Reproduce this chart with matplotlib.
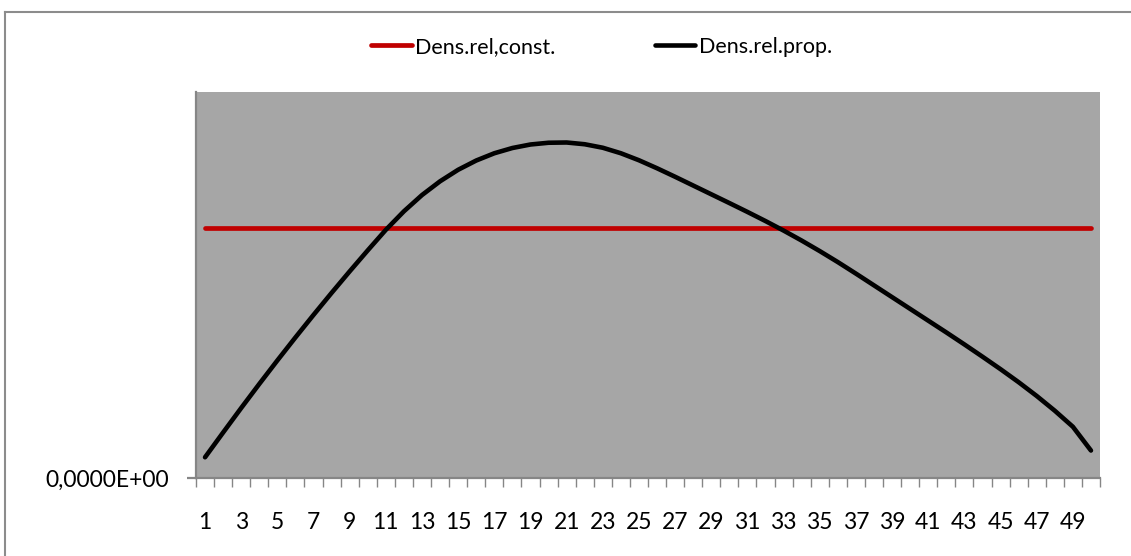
import matplotlib
matplotlib.use("Agg")
import matplotlib.pyplot as plt
from matplotlib.lines import Line2D
from matplotlib.ticker import FixedLocator, FuncFormatter

categories = list(range(1, 51))
dens_const = [0.02] * 50
dens_prop = [0.00168, 0.00366, 0.00562, 0.00754, 0.00942, 0.01126, 0.01306, 0.01482,
             0.01654, 0.01822, 0.01986, 0.02134, 0.02264, 0.02374, 0.02466, 0.02540,
             0.02598, 0.02640, 0.02668, 0.02682, 0.02684, 0.02670, 0.02642, 0.02598,
             0.02542, 0.02478, 0.02410, 0.02340, 0.02270, 0.02200, 0.02129, 0.02056,
             0.01980, 0.01900, 0.01816, 0.01728, 0.01636, 0.01542, 0.01448, 0.01354,
             0.01260, 0.01166, 0.01070, 0.00972, 0.00872, 0.00768, 0.00658, 0.00540,
             0.00412, 0.00222]
series_labels = ["Dens.rel,const.", "Dens.rel.prop."]
x_tick_labels = [str(c) for c in categories[::2]]

plt.rcParams['font.family'] = ['Lato', 'DejaVu Sans']

W, H = 1131, 556
fig = plt.figure(figsize=(W / 100, H / 100), dpi=100)
ax = fig.add_axes([196 / W, 1 - 478.3 / H, (1100 - 196) / W, (478.3 - 91.7) / H])
ax.set_facecolor('#A6A6A6')

axis_gray = '#868686'
l1, = ax.plot(categories, dens_const, color='#C00000', lw=3.4, solid_capstyle='round',
              label=series_labels[0])
l2, = ax.plot(categories, dens_prop, color='black', lw=3.3, solid_capstyle='round',
              solid_joinstyle='round', label=series_labels[1])

ax.set_xlim(0.5, 50.5)
ax.set_ylim(0, 0.0309)

for s in ['top', 'right']:
    ax.spines[s].set_visible(False)
for s in ['left', 'bottom']:
    ax.spines[s].set_color(axis_gray)
    ax.spines[s].set_linewidth(1.6)

ax.xaxis.set_major_locator(FixedLocator(categories[::2]))
ax.set_xticklabels(x_tick_labels)
ax.xaxis.set_minor_locator(FixedLocator([c - 0.5 for c in categories] + [50.5]))
ax.tick_params(axis='x', which='major', length=0, pad=24, labelsize=16.5, labelcolor='black')
ax.tick_params(axis='x', which='minor', length=6.5, width=1.0, color=axis_gray, direction='out')

ax.yaxis.set_major_locator(FixedLocator([0]))
ax.yaxis.set_major_formatter(FuncFormatter(lambda v, p: "0,0000E+00"))
ax.tick_params(axis='y', which='major', length=6.5, width=1.6, color=axis_gray, pad=13,
               labelsize=16.5, labelcolor='black')

leg = fig.legend(handles=[l1, l2], labels=series_labels, ncol=2, frameon=False,
                 loc='center left', bbox_to_anchor=(371 / W, 1 - 47 / H),
                 fontsize=15.5, handlelength=1.9, handletextpad=0.15, columnspacing=4.6,
                 borderaxespad=0, borderpad=0)

# outer chart border (left and top edges visible)
fig.add_artist(Line2D([4.5 / W, 4.5 / W], [0, 1 - 11.5 / H], transform=fig.transFigure,
                      color='#8C8C8C', lw=1.5))
fig.add_artist(Line2D([4.5 / W, 1], [1 - 11.5 / H, 1 - 11.5 / H], transform=fig.transFigure,
                      color='#8C8C8C', lw=1.5))

fig.savefig('out.png', dpi=100)
